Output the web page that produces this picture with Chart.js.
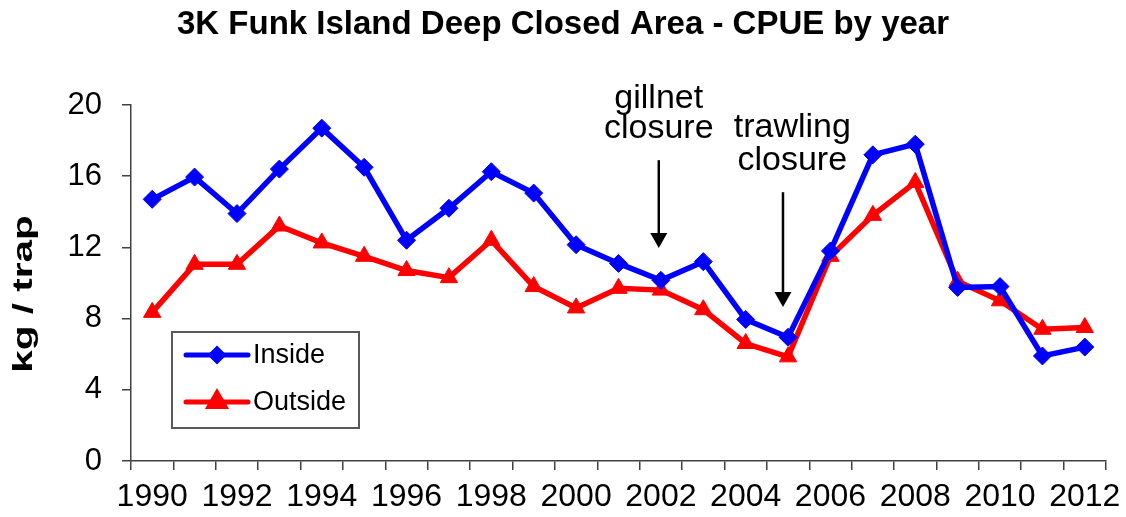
<!DOCTYPE html>
<html>
<head>
<meta charset="utf-8">
<script src="https://cdn.jsdelivr.net/npm/chart.js@4"></script>
<style>
html,body{margin:0;padding:0;background:#fff;}
#wrap{width:1126px;height:517px;}
</style>
</head>
<body>
<div id="wrap"><canvas id="c" width="1126" height="517"></canvas></div>
<script>
const years = ['1990','1991','1992','1993','1994','1995','1996','1997','1998','1999','2000','2001','2002','2003','2004','2005','2006','2007','2008','2009','2010','2011','2012'];
const insideValues = [14.7, 15.95, 13.9, 16.4, 18.7, 16.5, 12.4, 14.2, 16.25, 15.05, 12.15, 11.1, 10.15, 11.2, 7.95, 6.95, 11.8, 17.2, 17.8, 9.75, 9.8, 5.9, 6.4];
const outsideValues = [8.35, 11.05, 11.05, 13.2, 12.25, 11.5, 10.7, 10.3, 12.4, 9.8, 8.6, 9.7, 9.6, 8.5, 6.6, 5.85, 11.5, 13.8, 15.65, 10.1, 9.0, 7.4, 7.5];
const yTicks = [0, 4, 8, 12, 16, 20];
const titleText = '3K Funk Island Deep Closed Area - CPUE by year';
const yTitle = 'kg / trap';
const annotations = [
  {lines: ['gillnet', 'closure'], textIndex: 11.95, textValues: [19.83, 18.15], arrowIndex: 11.95, arrowFrom: 16.9, arrowTo: 11.97},
  {lines: ['trawling', 'closure'], textIndex: 15.1, textValues: [18.2, 16.35], arrowIndex: 14.88, arrowFrom: 15.1, arrowTo: 8.65}
];

const FONT = "'Liberation Sans', Arial, sans-serif";

const annotationPlugin = {
  id: 'annot',
  afterDatasetsDraw(chart) {
    const ctx = chart.ctx, xs = chart.scales.x, ys = chart.scales.y;
    ctx.save();
    ctx.fillStyle = '#000';
    ctx.strokeStyle = '#000';
    ctx.font = '34px ' + FONT;
    ctx.textAlign = 'center';
    ctx.textBaseline = 'alphabetic';
    annotations.forEach(a => {
      const tx = xs.getPixelForValue(a.textIndex);
      a.lines.forEach((l, i) => ctx.fillText(l, tx, ys.getPixelForValue(a.textValues[i])));
      const ax = xs.getPixelForValue(a.arrowIndex);
      const y0 = ys.getPixelForValue(a.arrowFrom), y1 = ys.getPixelForValue(a.arrowTo);
      ctx.lineWidth = 2.5;
      ctx.beginPath(); ctx.moveTo(ax, y0); ctx.lineTo(ax, y1 - 12); ctx.stroke();
      ctx.beginPath(); ctx.moveTo(ax - 8.5, y1 - 15); ctx.lineTo(ax + 8.5, y1 - 15); ctx.lineTo(ax, y1); ctx.closePath(); ctx.fill();
    });
    // y axis title (stretched along its length, as in the reference)
    const area = chart.chartArea;
    ctx.save();
    ctx.translate(25, (area.top + area.bottom) / 2 + 11);
    ctx.rotate(-Math.PI / 2);
    ctx.scale(1.5, 1);
    ctx.font = 'bold 27px ' + FONT;
    ctx.textAlign = 'center';
    ctx.textBaseline = 'middle';
    ctx.fillText(yTitle, 0, 0);
    ctx.restore();
    ctx.restore();
  }
};

const legendPlugin = {
  id: 'customLegend',
  afterDraw(chart) {
    const ctx = chart.ctx, area = chart.chartArea;
    const bx = area.left + 41, by = area.top + 227, bw = 187, bh = 96;
    ctx.save();
    ctx.fillStyle = '#fff';
    ctx.fillRect(bx, by, bw, bh);
    ctx.strokeStyle = '#595959';
    ctx.lineWidth = 2;
    ctx.strokeRect(bx, by, bw, bh);
    chart.data.datasets.forEach((ds, i) => {
      const y = by + 23 + i * 47;
      const x0 = bx + 14, x1 = bx + 76, xm = (x0 + x1) / 2;
      ctx.strokeStyle = ds.borderColor;
      ctx.lineWidth = 5;
      ctx.lineCap = 'round';
      ctx.beginPath(); ctx.moveTo(x0, y); ctx.lineTo(x1, y); ctx.stroke();
      Chart.helpers.drawPoint(ctx, {pointStyle: ds.pointStyle, radius: i === 0 ? 6 : 9, borderWidth: 1}, xm, y);
      ctx.fillStyle = ds.backgroundColor;
      ctx.fill();
      ctx.fillStyle = '#000';
      ctx.font = '27px ' + FONT;
      ctx.textAlign = 'left';
      ctx.textBaseline = 'middle';
      ctx.fillText(ds.label, x1 + 5, y + 1);
    });
    ctx.restore();
  }
};

new Chart(document.getElementById('c'), {
  type: 'line',
  data: {
    labels: years,
    datasets: [
      {label: 'Inside', data: insideValues, borderColor: '#0000FF', backgroundColor: '#0000FF', borderWidth: 5.5,
       pointStyle: 'rectRot', pointRadius: 9, pointBorderWidth: 1, pointHoverRadius: 9, tension: 0},
      {label: 'Outside', data: outsideValues, borderColor: '#FF0000', backgroundColor: '#FF0000', borderWidth: 5.5,
       pointStyle: 'triangle', pointRadius: 10, pointBorderWidth: 1, pointHoverRadius: 10, tension: 0}
    ]
  },
  options: {
    responsive: false,
    animation: false,
    devicePixelRatio: 1,
    layout: {padding: {left: 0, right: 0, top: 0, bottom: 0}},
    plugins: {
      legend: {display: false},
      tooltip: {enabled: false},
      title: {display: true, text: titleText, color: '#000',
              font: {family: FONT, size: 33, weight: 'bold'}, lineHeight: 1.2,
              padding: {top: 5, bottom: 60.4}}
    },
    scales: {
      x: {
        type: 'category',
        offset: true,
        grid: {display: true, drawOnChartArea: false, drawTicks: true, tickLength: 9, color: '#404040', lineWidth: 1.5, offset: true},
        border: {display: true, color: '#404040', width: 1.5},
        ticks: {autoSkip: false, maxRotation: 0, minRotation: 0, color: '#000', padding: 8,
                font: {family: FONT, size: 32},
                callback: function(v, i) { return i % 2 === 0 ? years[i] : ''; }},
        afterFit(s) { s.height = 56; s.paddingRight = 20; s.paddingLeft = 0; }
      },
      y: {
        min: 0, max: 20,
        afterBuildTicks(s) { s.ticks = yTicks.map(v => ({value: v})); },
        grid: {display: true, drawOnChartArea: false, drawTicks: true, tickLength: 9, color: '#404040', lineWidth: 1.5},
        border: {display: true, color: '#404040', width: 1.5},
        ticks: {color: '#000', padding: 20, font: {family: FONT, size: 31}},
        afterFit(s) { s.width = 131; }
      }
    }
  },
  plugins: [annotationPlugin, legendPlugin]
});
</script>
</body>
</html>
